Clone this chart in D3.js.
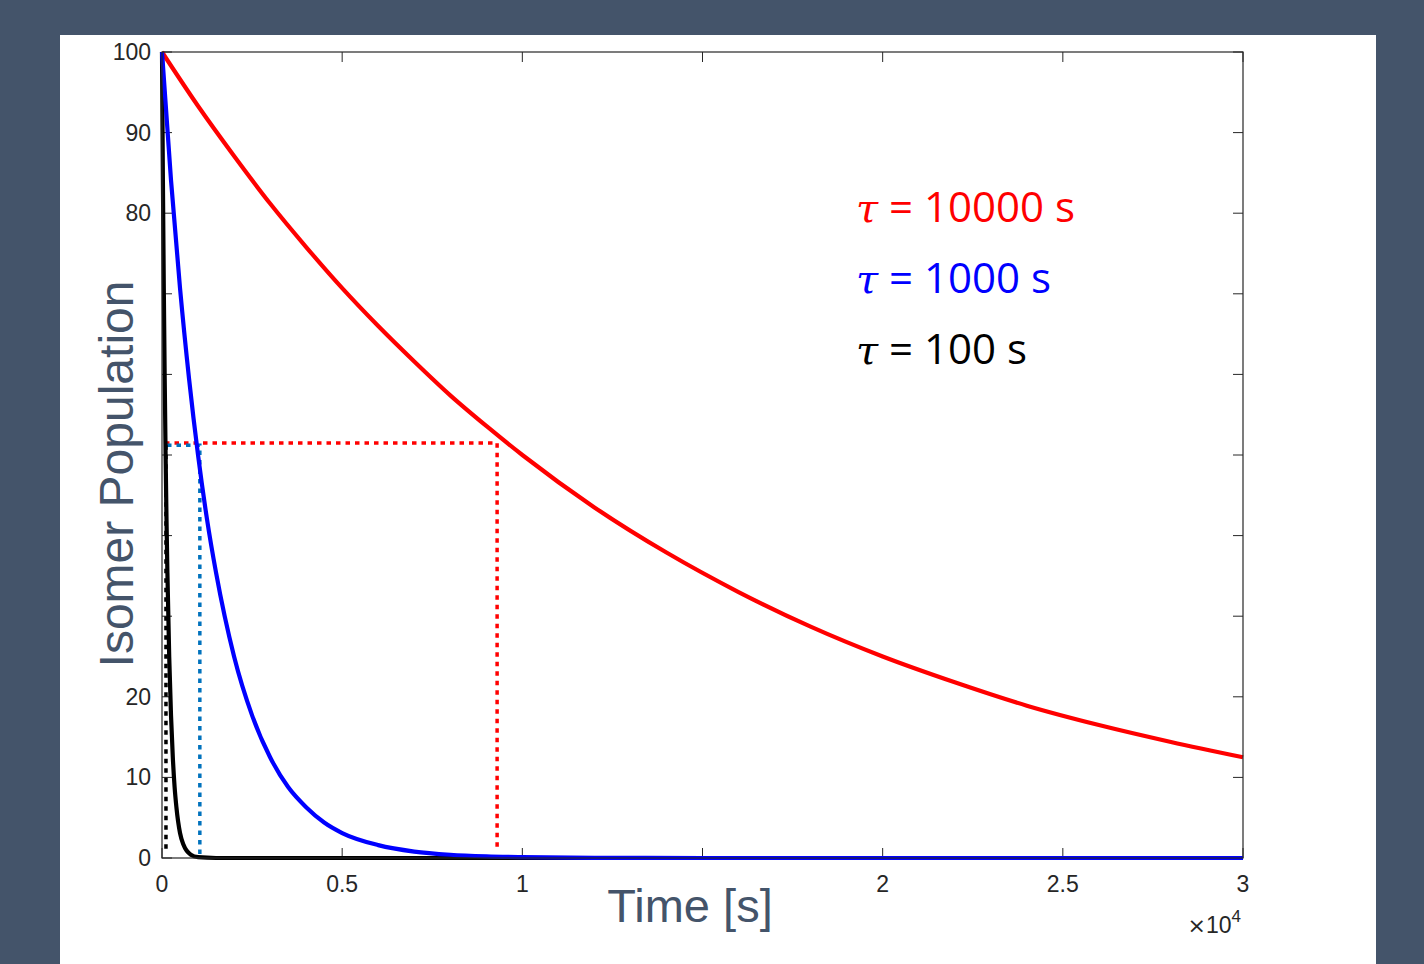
<!DOCTYPE html>
<html><head><meta charset="utf-8">
<script src="https://cdn.jsdelivr.net/npm/d3@7"></script>
<style>html,body{margin:0;padding:0;background:#44546A;}</style>
</head><body>
<svg id="c" width="1424" height="964"></svg>
<script>
// ---- data ----
const redTime = [0,1000,2000,3000,4000,5000,6000,7000,8000,9000,10000,12000,14000,16000,18000,20000,22000,24000,26000,28000,30000];
const redPop  = [100,93.3,87.1,81.2,75.8,70.7,66.0,61.6,57.4,53.6,50.0,43.5,37.9,33.0,28.7,25.0,21.8,18.9,16.5,14.4,12.5];
const blueTime = [0,250,500,750,1000,1250,1500,2000,2500,3000,3500,4000,4500,5000,6000,7000,8000,9000,10000,12000,15000,20000,30000];
const bluePop  = [100,84.1,70.7,59.5,50.0,42.0,35.4,25.0,17.7,12.5,8.8,6.3,4.4,3.1,1.6,0.8,0.4,0.2,0.1,0.02,0,0,0];
const blackTime = [0,25,50,75,100,125,150,200,250,300,350,400,500,600,800,1000,1500,30000];
const blackPop  = [100,84.1,70.7,59.5,50.0,42.0,35.4,25.0,17.7,12.5,8.8,6.3,3.1,1.6,0.4,0.1,0,0];
// half-life markers (dotted guides)
const redMark = {t: 9300, p: 51.5};
const blueMark = {t: 1050, p: 51.2};
const blackMark = {t: 110, p: 51.2};
const xTicks = [0,5000,10000,15000,20000,25000,30000];
const xTickLabels = ["0","0.5","1","1.5","2","2.5","3"];
const yTicks = [0,10,20,30,40,50,60,70,80,90,100];
const yTickLabels = ["0","10","20","","","","","","80","90","100"];
const legendLabels = ["10000 s","1000 s","100 s"];
const legendColors = ["#ff0000","#0000ff","#000000"];

// ---- drawing ----
const svg = d3.select("#c");
svg.append("rect").attr("x",0).attr("y",0).attr("width",1424).attr("height",964).attr("fill","#44546A");
svg.append("rect").attr("x",60).attr("y",35).attr("width",1316).attr("height",929).attr("fill","#ffffff");

const L=162, R=1243, T=52, B=858;
const x = d3.scaleLinear().domain([0,30000]).range([L,R]);
const y = d3.scaleLinear().domain([0,100]).range([B,T]);
const axisCol = "#262626";
const g = svg.append("g");

// ticks (inward, all four sides)
const tk = 10;
xTicks.forEach(v=>{
  g.append("line").attr("x1",x(v)).attr("x2",x(v)).attr("y1",B).attr("y2",B-tk).attr("stroke",axisCol).attr("stroke-width",1);
  g.append("line").attr("x1",x(v)).attr("x2",x(v)).attr("y1",T).attr("y2",T+tk).attr("stroke",axisCol).attr("stroke-width",1);
});
yTicks.forEach(v=>{
  g.append("line").attr("x1",L).attr("x2",L+tk).attr("y1",y(v)).attr("y2",y(v)).attr("stroke",axisCol).attr("stroke-width",1);
  g.append("line").attr("x1",R).attr("x2",R-tk).attr("y1",y(v)).attr("y2",y(v)).attr("stroke",axisCol).attr("stroke-width",1);
});

// dotted guides
const dot = (pts,col)=>g.append("path").attr("d",d3.line()(pts)).attr("fill","none").attr("stroke",col).attr("stroke-width",3.5).attr("stroke-dasharray","4.5,5");
dot([[x(0)+3,y(redMark.p)],[x(redMark.t),y(redMark.p)],[x(redMark.t),y(1.2)]],"#ff0000");
dot([[x(0)+5,y(blueMark.p)],[x(blueMark.t),y(blueMark.p)],[x(blueMark.t),y(0)]],"#0072BD");
dot([[x(blackMark.t),y(blackMark.p)],[x(blackMark.t),y(1)]],"#000000");

// curves
const line = d3.line().x(d=>x(d[0])).y(d=>y(d[1])).curve(d3.curveMonotoneX);
const series = [[blackTime,blackPop,"#000000"],[redTime,redPop,"#ff0000"],[blueTime,bluePop,"#0000ff"]];
series.forEach(([tt,pp,c])=>{
  g.append("path").attr("d",line(tt.map((t,i)=>[t,pp[i]]))).attr("fill","none").attr("stroke",c).attr("stroke-width",4.2).attr("stroke-linejoin","round");
});

// box
g.append("rect").attr("x",L).attr("y",T).attr("width",R-L).attr("height",B-T).attr("fill","none").attr("stroke",axisCol).attr("stroke-width",1.2);

// tick labels
const tf = "'Liberation Sans', Arial, sans-serif";
xTicks.forEach((v,i)=>{
  if(i===3) return;
  g.append("text").attr("x",x(v)).attr("y",B+34).attr("text-anchor","middle").attr("font-family",tf).attr("font-size",23).attr("fill",axisCol).text(xTickLabels[i]);
});
yTicks.forEach((v,i)=>{
  if(!yTickLabels[i]) return;
  g.append("text").attr("x",L-11).attr("y",y(v)+8).attr("text-anchor","end").attr("font-family",tf).attr("font-size",23).attr("fill",axisCol).text(yTickLabels[i]);
});
const ex = g.append("text").attr("x",R-2).attr("y",B+75).attr("text-anchor","end").attr("font-family",tf).attr("font-size",23).attr("fill",axisCol);
ex.append("tspan").attr("font-family","'DejaVu Sans', sans-serif").attr("font-size",22).text("\u00d7");
ex.append("tspan").text("10");
ex.append("tspan").attr("dy",-11).attr("font-size",17).text("4");

// axis titles
svg.append("text").attr("x",690).attr("y",922).attr("text-anchor","middle").attr("font-family",tf).attr("font-size",47).attr("fill","#44546A").text("Time [s]");
svg.append("text").attr("transform","translate(133,474) rotate(-90)").attr("text-anchor","middle").attr("font-family",tf).attr("font-size",48).attr("fill","#44546A").text("Isomer Population");

// legend
legendLabels.forEach((lab,i)=>{
  const t = svg.append("text").attr("x",856).attr("y",222+i*71).attr("font-size",42).attr("fill",legendColors[i]).attr("font-family","'Open Sans', sans-serif");
  t.append("tspan").attr("font-family","'DejaVu Serif', serif").attr("font-style","italic").attr("font-size",40).text("\u03c4");
  t.append("tspan").text(" = " + lab);
});
</script>
</body></html>
